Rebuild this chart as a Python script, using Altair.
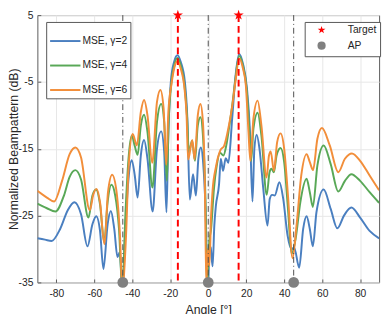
import altair as alt
import pandas as pd

# ---------------- data ----------------
angle_g2 = [-90, -86, -82.5, -78, -74, -70.5, -67, -63.6, -61, -59, -57, -55.2, -53, -51.3,
            -49.5, -47.8, -46.6, -45.2, -43.5, -42, -40.3, -38.7, -37.2, -35.5, -33.8, -32,
            -29.3, -27, -24.8, -23.2, -22.0, -21, -19.7, -18, -16.2, -14.5, -12.3, -11, -9.7,
            -8.0, -6.5, -5.2, -3.9, -2.7, -1.3, -0.2, 0.6, 1.3, 2.3, 3.2, 4.0, 5.7, 6.6, 7.8,
            9.2, 10.6, 12.6, 14.3, 16.3, 18.3, 20.4, 22.0, 23.3, 24.3, 25.5, 27, 29, 31.2,
            32.4, 33.6, 35, 37.5, 39.5, 41.8, 43.8, 45.3, 47.9, 50, 51.8, 53.5, 55.1, 57,
            60.8, 64.5, 68.0, 71.5, 75.4, 80, 85, 90]
bp_g2 = [-28.4, -28.6, -28.8, -27.0, -24.2, -23.0, -24.8, -29.6, -26.3, -25.1, -27.3, -33.0,
         -26.3, -24.3, -27.0, -31.2, -30.5, -36.0, -26.0, -19.5, -16.7, -19.0, -22.3, -16.0,
         -13.7, -16.5, -24.4, -15.0, -12.4, -15.5, -24.5, -12.5, -5.0, -2.0, -1.0, -2.0,
         -5.0, -10.5, -22.6, -18.8, -22.0, -16.5, -14.8, -17.0, -25.0, -37.0, -29.5, -29.8,
         -32.6, -26.5, -23.6, -20.3, -16.5, -18.3, -16.4, -17.1, -10.5, -4.3, -0.8, -2.3,
         -6.0, -12.5, -22.9, -15.0, -12.9, -15.0, -21.0, -26.5, -22.5, -21.9, -22.0, -20.0,
         -22.5, -28.0, -30.0, -29.8, -32.8, -27.0, -25.1, -27.0, -29.6, -24.5, -21.1, -24.0,
         -26.9, -25.0, -23.8, -25.3, -27.3, -28.4]

angle_g4 = [-90, -85, -80.5, -76, -73, -70, -67, -63.1, -61, -59.1, -57, -54.8, -53, -51,
            -49, -47, -45.3, -43.5, -42, -40.3, -38.7, -37.2, -35.5, -33.8, -32, -29.4, -27,
            -24.8, -23.2, -21.8, -20.8, -19.5, -17.8, -16.2, -14.5, -12.5, -11.2, -10.2, -8.5,
            -7.0, -5.5, -4.1, -2.8, -1.5, -0.6, 0.5, 1.5, 3.0, 4.5, 6.2, 8.0, 9.5, 11.0, 12.6,
            14.3, 16.3, 18.3, 20.2, 21.6, 22.6, 23.8, 26.0, 28, 30.8, 32.3, 33.3, 34.6, 36,
            38.1, 40, 42, 43.9, 46, 48.5, 51.8, 53.5, 55.1, 57.5, 60.8, 64.5, 68.5, 72, 75.4,
            80, 85, 90]
bp_g4 = [-23.2, -23.9, -24.4, -22.0, -19.2, -18.2, -19.6, -25.3, -22.0, -21.1, -23.3, -29.0,
         -23.0, -20.4, -22.0, -27.0, -36.0, -24.0, -16.5, -13.0, -14.6, -15.9, -11.5, -9.9,
         -12.5, -20.8, -11.0, -8.3, -11.0, -19.8, -10.5, -5.3, -2.4, -1.4, -2.5, -5.5, -10.0,
         -15.5, -13.8, -16.8, -11.5, -10.3, -13.0, -22.0, -36.0, -29.0, -27.0, -21.0, -17.5,
         -15.6, -16.0, -14.5, -11.8, -8.6, -4.6, -1.1, -2.6, -6.0, -12.0, -16.8, -12.0, -9.6,
         -13.0, -21.9, -18.5, -18.0, -18.5, -16.0, -14.9, -17.0, -24.0, -30.7, -28.5, -23.0,
         -19.5, -21.5, -23.7, -17.5, -14.5, -17.3, -21.4, -19.8, -18.8, -19.8, -21.5, -23.1]

angle_g6 = [-90, -85, -81.2, -77, -73, -70, -67, -62.4, -60.5, -58.8, -57, -54.7, -52.8, -50.6,
            -48.5, -46.5, -45.3, -43.3, -42, -39.8, -37.6, -35.5, -33.8, -32, -29.5, -27,
            -25.2, -23.5, -22.1, -21, -19.3, -17.8, -16.2, -14.5, -12.5, -11.4, -10.6, -8.4,
            -7.2, -5.5, -4.1, -2.8, -1.8, -1.0, -0.2, 0.6, 1.5, 2.3, 4.0, 6.6, 8.3, 10.9, 12.6,
            14.3, 16.3, 18.3, 19.8, 21.2, 22.2, 23.8, 26.0, 28, 30.7, 32.0, 32.9, 34.6, 36.3,
            38.1, 40, 42, 44.4, 46.5, 49, 51.8, 53.5, 55.2, 57.5, 59.9, 64, 68.5, 72, 75.7, 80,
            85, 90]
bp_g6 = [-21.3, -22.3, -22.9, -19.8, -15.8, -14.8, -16.3, -24.2, -21.8, -21.0, -23.0, -29.3,
         -21.5, -18.9, -21.0, -28.0, -36.0, -28.0, -18.0, -12.8, -14.5, -9.5, -7.7, -10.0,
         -17.1, -8.0, -6.2, -9.0, -17.4, -9.5, -5.2, -2.8, -1.9, -3.0, -6.0, -10.1, -16.6,
         -13.7, -16.6, -10.0, -8.3, -11.0, -20.0, -35.5, -30.0, -32.5, -25.0, -21.2, -17.8,
         -15.1, -14.6, -11.5, -8.7, -5.0, -1.5, -3.0, -5.5, -12.5, -16.8, -10.5, -7.8, -11.5,
         -19.3, -16.0, -15.4, -18.3, -14.0, -12.7, -15.0, -22.0, -31.4, -26.5, -19.0, -15.8,
         -17.0, -18.2, -13.5, -11.9, -14.5, -18.5, -16.5, -15.7, -16.8, -19.0, -21.2]

series_names = ["MSE, γ=2", "MSE, γ=4", "MSE, γ=6"]
series_colors = ["#4a7fc0", "#59a857", "#f28e3a"]

target_angles = [-16, 16]
ap_angles = [-45, 0, 45]
target_level = 5
ap_level = -35
marker_labels = ["Target", "AP"]
marker_colors = ["#ff0000", "#808080"]
STAR = ("M0,-1L0.2245,-0.309L0.951,-0.309L0.363,0.118L0.588,0.809L0,0.382"
        "L-0.588,0.809L-0.363,0.118L-0.951,-0.309L-0.2245,-0.309Z")
marker_shapes = [STAR, "circle"]

x_ticks = [-80, -60, -40, -20, 0, 20, 40, 60, 80]
y_ticks = [-35, -30, -25, -20, -15, -10, -5, 0, 5]
x_domain = [-90, 90]
y_domain = [-35, 5]

# ---------------- tables ----------------
rows = []
for name, xs_, ys_ in zip(series_names, [angle_g2, angle_g4, angle_g6], [bp_g2, bp_g4, bp_g6]):
    for a, b in zip(xs_, ys_):
        rows.append({"series": name, "angle": float(a), "bp": float(b)})
df_lines = pd.DataFrame(rows)
df_target = pd.DataFrame({"angle": [float(v) for v in target_angles]})
df_ap = pd.DataFrame({"angle": [float(v) for v in ap_angles]})
df_markers = pd.DataFrame({
    "angle": [float(v) for v in target_angles + ap_angles],
    "bp": [float(target_level)] * len(target_angles) + [float(ap_level)] * len(ap_angles),
    "marker": ["Target"] * len(target_angles) + ["AP"] * len(ap_angles),
})

FONT = "Liberation Sans"
xscale = alt.Scale(domain=x_domain, nice=False, zero=False)
yscale = alt.Scale(domain=y_domain, nice=False, zero=False)

leg_lines = alt.Legend(title=None, orient="none", legendX=9, legendY=7,
                       symbolType="stroke", symbolSize=961, symbolStrokeWidth=2,
                       symbolOffset=0, labelOffset=1, rowPadding=3, padding=3)
leg_marks = alt.Legend(title=None, orient="none", legendX=273, legendY=7,
                       symbolSize=70, symbolOffset=9, labelOffset=21.5,
                       rowPadding=2, padding=3)

lines = alt.Chart(df_lines).mark_line(strokeWidth=2, interpolate="monotone", clip=True).encode(
    x=alt.X("angle:Q", scale=xscale,
            axis=alt.Axis(orient="bottom", values=x_ticks, title="Angle [°]", grid=True,
                          ticks=True, tickSize=3.5, offset=-3.5, labelPadding=6,
                          labelExpr="toString(datum.value)", titleY=35.5,
                          titleBaseline="alphabetic")),
    y=alt.Y("bp:Q", scale=yscale,
            axis=alt.Axis(orient="left", values=y_ticks, title="Normalized Beampattern (dB)",
                          grid=True, ticks=True, tickSize=3.5, offset=-3.5, labelPadding=4.5,
                          labelExpr="toString(datum.value)", titleX=-23.5,
                          titleBaseline="alphabetic", titleAngle=270)),
    stroke=alt.Stroke("series:N", scale=alt.Scale(domain=series_names, range=series_colors),
                      legend=leg_lines),
)

ap_rules = alt.Chart(df_ap).mark_rule(color="#4d4d4d", strokeWidth=1,
                                      strokeDash=[6, 3, 1, 3]).encode(
    x=alt.X("angle:Q", scale=xscale))
target_rules = alt.Chart(df_target).mark_rule(color="#ff0000", strokeWidth=2,
                                              strokeDash=[7, 4]).encode(
    x=alt.X("angle:Q", scale=xscale))

markers = alt.Chart(df_markers).mark_point(filled=True, opacity=1, size=120, clip=False,
                                           strokeWidth=0).encode(
    x=alt.X("angle:Q", scale=xscale),
    y=alt.Y("bp:Q", scale=yscale),
    fill=alt.Fill("marker:N", scale=alt.Scale(domain=marker_labels, range=marker_colors),
                  legend=leg_marks),
    shape=alt.Shape("marker:N", scale=alt.Scale(domain=marker_labels, range=marker_shapes),
                    legend=leg_marks),
)

chart = alt.layer(lines, ap_rules, target_rules, markers).properties(
    width=349, height=273,
    padding={"left": 30, "top": 4, "right": 5, "bottom": 29},
    autosize=alt.AutoSizeParams(type="none"),
).configure(
    font=FONT
).configure_view(
    stroke="#5a5a5a", strokeWidth=1
).configure_axis(
    labelFont=FONT, labelFontSize=10.5, labelColor="#262626",
    titleFont=FONT, titleFontSize=12.5, titleFontWeight="normal", titleColor="#262626",
    gridColor="#e6e6e6", gridWidth=1, tickColor="#5a5a5a", tickWidth=1, domain=False
).configure_legend(
    labelFont=FONT, labelFontSize=10.5, labelColor="#262626",
    fillColor="white", strokeColor="#555555", cornerRadius=0
)

chart.save("out.html", embed_options={"renderer": "svg", "actions": False})
